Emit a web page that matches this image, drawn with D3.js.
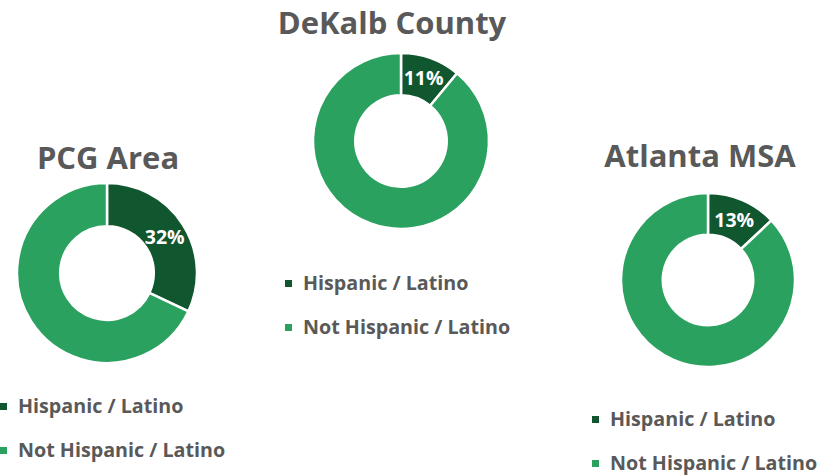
<!DOCTYPE html>
<html>
<head>
<meta charset="utf-8">
<script src="https://cdn.jsdelivr.net/npm/d3@7"></script>
<style>
  body { margin: 0; background: #fff; }
  text { font-family: "Open Sans", Lato, sans-serif; font-weight: bold; }
</style>
</head>
<body>
<div class="chart"></div>
<script>
const categories = ['Hispanic / Latino', 'Not Hispanic / Latino']
const regions = ['PCG Area', 'DeKalb County', 'Atlanta MSA']
const hispanic = [32, 11, 13]
const notHispanic = [68, 89, 87]

const colors = ['#10562f', '#2ba160']

// where each donut sits on the page
const layout = [
    {cx: 107, cy: 273, r: 90, tx: 108, ty: 169, lx: 0, ly: 403},
    {cx: 401, cy: 141, r: 88, tx: 392, ty: 33.5, lx: 285, ly: 280},
    {cx: 708, cy: 280, r: 87, tx: 700, ty: 167, lx: 592, ly: 416}
]

const width = 835, height = 476

let svg = d3.select('.chart').append('svg')
    .attr('width', width)
    .attr('height', height)

let pie = d3.pie().sort(null).value(d => d.value)
let color = d3.scaleOrdinal().domain(categories).range(colors)

regions.forEach((name, i) => {
    const L = layout[i]
    const values = [
        {cat: categories[0], value: hispanic[i]},
        {cat: categories[1], value: notHispanic[i]}
    ]
    let arc = d3.arc().innerRadius(L.r * 0.52).outerRadius(L.r)

    // title
    svg.append('text')
        .attr('x', L.tx)
        .attr('y', L.ty)
        .attr('text-anchor', 'middle')
        .attr('font-size', 31)
        .attr('fill', '#595959')
        .text(name)

    let g = svg.append('g')
        .attr('transform', 'translate(' + L.cx + ',' + L.cy + ')')

    g.selectAll('path')
        .data(pie(values))
        .join('path')
        .attr('d', arc)
        .attr('fill', d => color(d.data.cat))
        .attr('stroke', '#fff')
        .attr('stroke-width', 2.5)

    // only the hispanic share is labelled
    g.selectAll('text.lbl')
        .data(pie(values).filter(d => d.data.cat == categories[0]))
        .join('text')
        .attr('class', 'lbl')
        .attr('transform', d => 'translate(' + arc.centroid(d) + ')')
        .attr('text-anchor', 'middle')
        .attr('dy', '0.38em')
        .attr('font-size', 19.5)
        .attr('fill', '#fff')
        .text(d => d.data.value + '%')

    // legend
    categories.forEach((c, j) => {
        svg.append('rect')
            .attr('x', L.lx)
            .attr('y', L.ly + j * 44)
            .attr('width', 7)
            .attr('height', 7)
            .attr('fill', color(c))
        svg.append('text')
            .attr('x', L.lx + 18)
            .attr('y', L.ly + j * 44 + 10)
            .attr('font-size', 19.7)
            .attr('fill', '#595959')
            .text(c)
    })
})
</script>
</body>
</html>
